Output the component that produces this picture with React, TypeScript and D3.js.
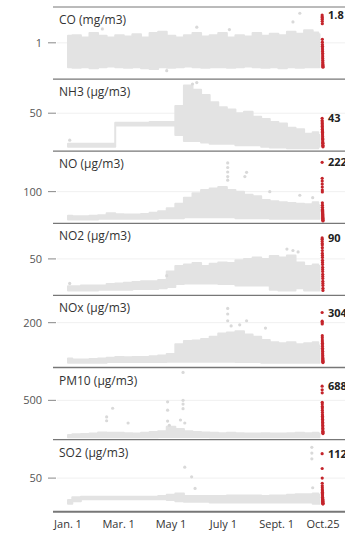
import React from "react";
import * as d3 from "d3";

const W = 345;
const H = 535;

// Day-of-year sampling for the hourly "cloud" envelopes (Jan. 1 = 0)
const DAYS = [0, 10, 20, 30, 40, 50, 60, 70, 80, 90, 100, 110, 120, 130, 140, 150, 160, 170, 180, 190, 200, 210, 220, 230, 240, 250, 260, 270, 280, 290, 293];

const X_TICK_DAYS = [0, 59, 120, 181, 243, 297];
const X_TICK_LABELS = ["Jan. 1", "Mar. 1", "May 1", "July 1", "Sept. 1", "Oct.25"];

const PANEL_NAMES = ["CO (mg/m3)", "NH3 (µg/m3)", "NO (µg/m3)", "NO2 (µg/m3)", "NOx (µg/m3)", "PM10 (µg/m3)", "SO2 (µg/m3)"];
const Y_MAX = [2.03, 96.7, 234, 100.9, 326, 935, 110];
const Y_TICKS = [1, 50, 100, 50, 200, 500, 50];
const MAX_LABELS = ["1.8", "43", "222", "90", "304", "688", "112"];

// lower / upper envelopes of the grey hourly readings
const CO_LO = [0.3, 0.28, 0.3, 0.27, 0.3, 0.32, 0.3, 0.28, 0.3, 0.27, 0.25, 0.3, 0.28, 0.3, 0.32, 0.3, 0.28, 0.3, 0.3, 0.28, 0.3, 0.32, 0.3, 0.28, 0.3, 0.27, 0.3, 0.28, 0.3, 0.3, 0.3];
const CO_HI = [1.2, 1.22, 1.15, 1.28, 1.2, 1.15, 1.22, 1.18, 1.25, 1.15, 1.28, 1.32, 1.2, 1.15, 1.22, 1.28, 1.18, 1.22, 1.28, 1.15, 1.22, 1.18, 1.28, 1.2, 1.26, 1.22, 1.32, 1.26, 1.36, 1.3, 1.25];
const NH3_LO = [4, 4, 4, 4, 4, 4, 33, 33, 33, 33, 33, 33, 33, 20, 12, 12, 10, 8, 8, 8, 6, 6, 6, 4, 3, 3, 2, 2, 2, 2, 4];
const NH3_HI = [8, 8, 8, 8, 8, 8, 37, 37, 37, 37, 38, 38, 38, 60, 88, 82, 75, 65, 58, 55, 50, 52, 45, 42, 38, 36, 30, 28, 22, 24, 20];
const NO_LO = [8, 8, 8, 8, 10, 10, 10, 10, 10, 10, 10, 12, 12, 12, 15, 15, 15, 15, 15, 15, 12, 12, 12, 12, 10, 10, 10, 10, 10, 10, 10];
const NO_HI = [20, 18, 18, 20, 22, 28, 25, 24, 24, 26, 30, 35, 45, 60, 80, 95, 105, 110, 115, 105, 100, 90, 85, 72, 68, 65, 62, 60, 58, 65, 55];
const NO2_LO = [5, 5, 5, 5, 6, 6, 6, 6, 7, 7, 7, 8, 10, 14, 15, 15, 15, 15, 14, 14, 12, 12, 12, 12, 6, 5, 5, 8, 5, 5, 5];
const NO2_HI = [11, 11, 12, 12, 12, 14, 15, 16, 17, 18, 18, 20, 32, 40, 42, 44, 40, 43, 45, 44, 48, 50, 52, 50, 54, 52, 55, 45, 40, 42, 40];
const NOX_LO = [15, 15, 15, 15, 15, 18, 18, 18, 18, 18, 18, 18, 20, 20, 20, 20, 20, 20, 20, 20, 18, 18, 18, 15, 15, 15, 15, 15, 15, 15, 15];
const NOX_HI = [35, 30, 30, 32, 35, 38, 42, 40, 42, 42, 45, 48, 55, 100, 115, 118, 125, 135, 150, 155, 160, 145, 135, 120, 110, 105, 110, 100, 105, 110, 95];
const PM10_LO = [10, 10, 10, 10, 12, 12, 12, 12, 12, 12, 12, 15, 15, 15, 15, 15, 15, 12, 12, 12, 12, 12, 12, 12, 12, 12, 12, 12, 12, 12, 12];
const PM10_HI = [40, 50, 55, 60, 75, 70, 70, 65, 60, 70, 80, 90, 150, 120, 90, 80, 75, 70, 65, 70, 65, 60, 60, 65, 60, 60, 65, 70, 65, 70, 60];
const SO2_LO = [10, 14, 17, 17, 17, 17, 17, 17, 17, 17, 17, 17, 16, 14, 13, 13, 13, 12, 12, 12, 12, 12, 12, 12, 12, 12, 12, 12, 12, 10, 10];
const SO2_HI = [16, 20, 21, 21, 21, 21, 21, 21, 21, 21, 21, 22, 24, 26, 22, 22, 22, 22, 22, 23, 23, 23, 23, 22, 23, 23, 24, 25, 25, 26, 24];

// isolated grey readings: [day, value]
const CO_OUT = [[270, 1.85], [188, 1.38], [262, 1.6], [115, 0.2], [40, 1.4], [150, 1.45]];
const NH3_OUT = [[2, 13], [150, 92], [145, 90]];
const NO_OUT = [[186, 195], [186, 180], [186, 165], [186, 150], [186, 138], [208, 164], [206, 150], [270, 88], [285, 80], [235, 100]];
const NO2_OUT = [[2, 15], [115, 26], [255, 64], [262, 62], [268, 60]];
const NOX_OUT = [[186, 266], [186, 240], [186, 209], [208, 209], [200, 190], [190, 185], [230, 175]];
const PM10_OUT = [[45, 280], [45, 230], [52, 395], [70, 200], [116, 480], [116, 370], [116, 225], [134, 870], [134, 500], [134, 450], [134, 390], [131, 240], [136, 200], [118, 170]];
const SO2_OUT = [[136, 67], [144, 52], [148, 34], [285, 35], [284, 98], [284, 89], [284, 80]];

// red: last 24 hourly readings
const CO_RED = [1.8, 1.75, 1.72, 1.68, 1.62, 1.55, 1.1, 1.02, 0.95, 0.9, 0.85, 0.8, 0.75, 0.7, 0.65, 0.6, 0.55, 0.5, 0.45, 0.42, 0.38, 0.35, 0.32, 0.3];
const NH3_RED = [43, 40, 38, 36, 34, 32, 30, 28, 27, 25, 24, 22, 20, 18, 16, 15, 14, 12, 10, 9, 8, 6, 5, 4];
const NO_RED = [197, 144, 135, 125, 115, 105, 99, 63, 55, 48, 42, 38, 35, 32, 28, 25, 22, 18, 15, 12, 10, 8, 5, 3];
const NO2_RED = [80, 78, 75, 72, 70, 66, 62, 58, 55, 52, 48, 45, 42, 38, 35, 32, 28, 25, 22, 18, 15, 12, 8, 5];
const NOX_RED = [247, 207, 200, 194, 140, 130, 120, 112, 105, 98, 90, 82, 75, 68, 60, 55, 48, 42, 36, 30, 26, 22, 18, 16];
const PM10_RED = [688, 640, 600, 475, 450, 420, 400, 370, 340, 310, 290, 270, 250, 230, 210, 190, 170, 150, 130, 110, 90, 80, 70, 60];
const SO2_RED = [88, 65, 50, 42, 38, 35, 32, 30, 28, 26, 24, 22, 20, 19, 18, 17, 16, 15, 14, 13, 12, 11, 10, 10];

const LOS = [CO_LO, NH3_LO, NO_LO, NO2_LO, NOX_LO, PM10_LO, SO2_LO];
const HIS = [CO_HI, NH3_HI, NO_HI, NO2_HI, NOX_HI, PM10_HI, SO2_HI];
const OUTS = [CO_OUT, NH3_OUT, NO_OUT, NO2_OUT, NOX_OUT, PM10_OUT, SO2_OUT];
const REDS = [CO_RED, NH3_RED, NO_RED, NO2_RED, NOX_RED, PM10_RED, SO2_RED];

const FONT = "'Open Sans', 'DejaVu Sans', sans-serif";

export default function App() {
  const top0 = 7;
  const ph = 72.1;
  const x = d3.scaleLinear().domain([0, 297]).range([68, 323]);
  const GREY = "#e3e3e3";
  const RED = "#c4242b";

  return (
    <svg width={W} height={H} style={{ position: "absolute", left: 0, top: 0, display: "block" }}>
      <rect width={W} height={H} fill="#fff" />
      {PANEL_NAMES.map((name, i) => {
        const top = top0 + i * ph;
        const bottom = top + ph;
        const y = d3.scaleLinear().domain([0, Y_MAX[i]]).range([bottom - 1.5, top]);
        const lo = LOS[i];
        const hi = HIS[i];
        const area = d3
          .area<number>()
          .x((_, j) => x(DAYS[j]))
          .y0((_, j) => y(lo[j]))
          .y1((d) => y(d))
          .curve(d3.curveStep);
        const red = REDS[i];
        const tv = Y_TICKS[i];
        const ty = y(tv);
        const redTop = y(red[0]);
        return (
          <g key={name}>
            <line x1={57} x2={W} y1={ty} y2={ty} stroke="#f0f0f0" strokeWidth={1} />
            <path d={area(hi) || ""} fill={GREY} stroke={GREY} strokeWidth={2} strokeLinejoin="round" />
            {OUTS[i].map((p, k) => (
              <circle key={k} cx={x(p[0])} cy={y(p[1])} r={1.6} fill="#d9d9d9" />
            ))}
            {red.map((v, k) => (
              <circle key={"r" + k} cx={x(296 + k / 24)} cy={y(v)} r={1.6} fill={RED} />
            ))}
            <text x={42} y={ty + 4} textAnchor="end" fontFamily={FONT} fontSize={11} fill="#555">
              {d3.format("~g")(tv)}
            </text>
            <line x1={48} x2={56} y1={ty} y2={ty} stroke="#888" strokeWidth={1} />
            <text x={59} y={top + 17} fontFamily={FONT} fontSize={12} fill="#333">
              {name}
            </text>
            <text x={328} y={redTop + 4} fontFamily={FONT} fontSize={11} fontWeight="bold" fill="#222">
              {MAX_LABELS[i]}
            </text>
            <line x1={53} x2={W} y1={top} y2={top} stroke="#777" strokeWidth={i === 0 ? 1 : 1.3} />
          </g>
        );
      })}
      <line x1={53} x2={W} y1={top0 + 7 * ph} y2={top0 + 7 * ph} stroke="#777" strokeWidth={2} />
      {X_TICK_DAYS.map((d, k) => (
        <text key={k} x={x(d)} y={528} textAnchor="middle" fontFamily={FONT} fontSize={11} fill="#333">
          {X_TICK_LABELS[k]}
        </text>
      ))}
    </svg>
  );
}
